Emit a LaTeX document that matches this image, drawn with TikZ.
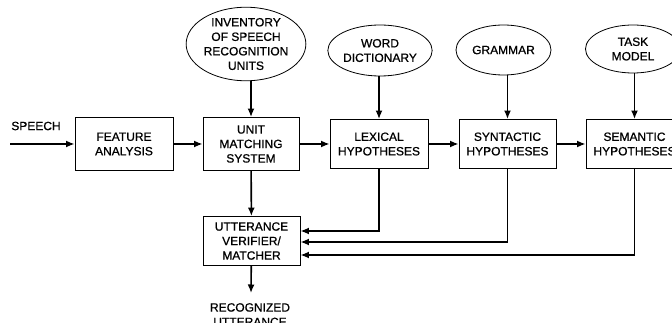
\documentclass[tikz,border=0pt]{standalone}
\usepackage{fontspec}
\setmainfont[FakeBold=0.8]{Liberation Sans}
\usetikzlibrary{arrows.meta,shapes.geometric,calc}
\tikzset{
  lbl/.style={align=center,font=\fontsize{12}{14.5}\selectfont,inner sep=0pt},
  blk/.style={lbl,draw,line width=0.9pt,minimum width=97pt,minimum height=49pt},
  src/.style={lbl,draw,ellipse,line width=0.8pt,inner sep=0pt},
  flow/.style={line width=1.6pt,-{Latex[length=8.5pt,width=7pt]}}
}
\begin{document}
\begin{tikzpicture}[x=1pt,y=-1pt]
\useasboundingbox (0,0) rectangle (672,323);

% knowledge sources
\node[src,minimum width=112pt,minimum height=72pt] (inv) at (246,44)
  {INVENTORY\\OF SPEECH\\RECOGNITION\\UNITS};
\node[src,minimum width=94pt,minimum height=51pt] (dict) at (380,50.5)
  {WORD\\DICTIONARY};
\node[src,minimum width=95pt,minimum height=50pt] (gram) at (503.5,50)
  {GRAMMAR};
\node[src,minimum width=95pt,minimum height=48pt] (task) at (633,49)
  {TASK\\MODEL};

% processing chain
\node[blk,minimum width=98pt,minimum height=53pt] (feat) at (124,144) {FEATURE\\ANALYSIS};
\node[blk,minimum width=96pt,minimum height=53pt] (unit) at (251,144) {UNIT\\MATCHING\\SYSTEM};
\node[blk,minimum width=98pt] (lex) at (379,144) {LEXICAL\\HYPOTHESES};
\node[blk] (syn) at (507.5,144) {SYNTACTIC\\HYPOTHESES};
\node[blk] (sem) at (634.5,144) {SEMANTIC\\HYPOTHESES};
\node[blk] (ver) at (251.5,241) {UTTERANCE\\VERIFIER/\\MATCHER};

% input and output
\coordinate (in) at (10,144);
\node[lbl] (speech) at (36,126) {SPEECH};
\coordinate (out) at (251,293);
\node[lbl,anchor=north] (rec) at (250,303) {RECOGNIZED\\UTTERANCE};

% main flow
\draw[flow] (in) -- (feat);
\draw[flow] (feat) -- (unit);
\draw[flow] (unit) -- (lex);
\draw[flow] (lex) -- (syn);
\draw[flow] (syn) -- (sem);

% knowledge inputs
\draw[flow] (unit.north |- inv.south) -- (unit.north);
\draw[flow] (lex.north |- dict.south) -- (lex.north);
\draw[flow] (syn.north |- gram.south) -- (syn.north);
\draw[flow] (sem.north |- task.south) -- (sem.north);

% verification
\draw[flow] (unit) -- (ver);
\draw[flow] (ver) -- (out);
\draw[flow] (lex.south) |- ($(ver.east)+(0,-10)$);
\draw[flow] (syn.south) |- ($(ver.east)+(0,1)$);
\draw[flow] (sem.south) |- ($(ver.east)+(0,14)$);
\end{tikzpicture}
\end{document}
